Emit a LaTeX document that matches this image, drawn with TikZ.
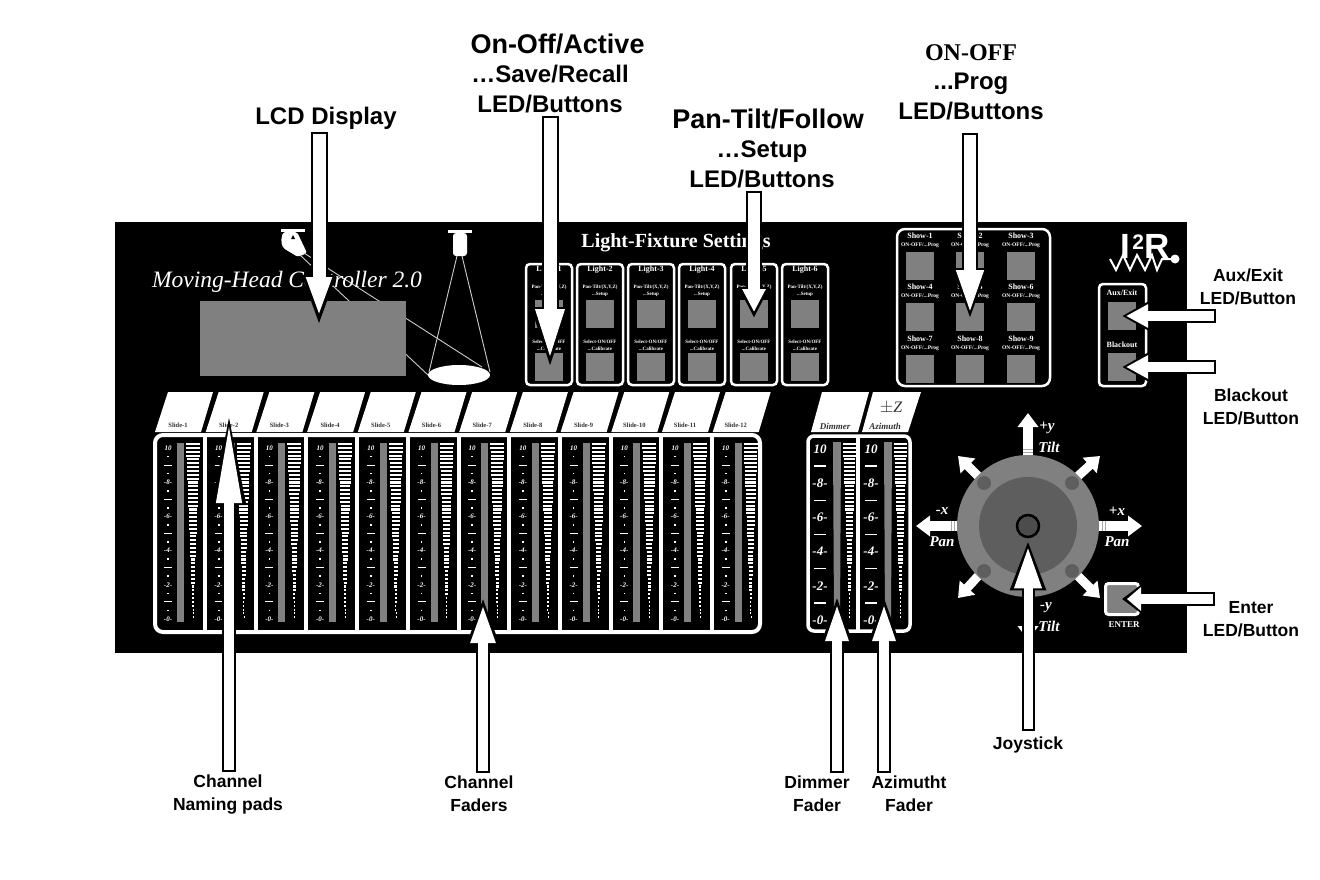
\documentclass[tikz,border=0pt]{standalone}
\usepackage{fontspec}
\setmainfont{Liberation Sans}
\newfontfamily\panelfont{Liberation Serif}
\usetikzlibrary{arrows.meta}
\usetikzlibrary{calc}
\begin{document}
\begin{tikzpicture}[
    x=1pt, y=-1pt,
    big/.style={align=center, inner sep=3pt, font=\fontsize{24}{29.5}\selectfont\bfseries},
    small/.style={align=center, inner sep=3pt, font=\fontsize{17.5}{23}\selectfont\bfseries},
    pad/.style={draw=white, line width=2.5pt, rounded corners=4pt, fill=black},
    button/.style={fill=knob, minimum width=28pt, minimum height=28pt, inner sep=0pt},
    tiny/.style={text=white, inner sep=0pt, align=center, font=\panelfont\bfseries\fontsize{5}{7}\selectfont},
    btnname/.style={text=white, inner sep=0pt, font=\panelfont\bfseries\fontsize{8}{9}\selectfont},
    slidename/.style={text=black!80, inner sep=0pt, font=\panelfont\bfseries\fontsize{6.5}{8}\selectfont},
    scalenum/.style={text=white, inner sep=0pt, font=\panelfont\bfseries\itshape\fontsize{#1}{#1}\selectfont},
    axislabel/.style={text=white, inner sep=0pt, font=\panelfont\bfseries\itshape\fontsize{15}{15}\selectfont},
    move/.style={draw=white, line width=#1, -{Triangle[length=14pt, width=20pt]}},
    hatch/.style={draw=black!35, line width=0.9pt},
    beam/.style={draw=white!80!black, line width=0.9pt},
    callout/.style n args={4}{
        preaction={draw=black, line width=#4+4pt, shorten >=0pt, shorten <=0pt,
            -{Triangle[length=#1+#3+2pt, width=#2+7pt]}},
        draw=white, line width=#4, shorten >=#3, shorten <=2pt,
        -{Triangle[length=#1, width=#2]}}
  ]
    \definecolor{knob}{HTML}{808080}
    \definecolor{innerdisc}{HTML}{5E5E5E}
    \useasboundingbox (0,0) rectangle (1320,880);

    \node[big] (lblLcd) at (326,118) {LCD Display};
    \node[big] (lblActive) at (550,73) {\hspace*{15pt}{\fontsize{27}{29.5}\selectfont On-Off/Active}\\…Save/Recall\\LED/Buttons};
    \node[big] (lblSetup) at (762,148) {\hspace*{12pt}{\fontsize{27}{29.5}\selectfont Pan-Tilt/Follow}\\…Setup\\LED/Buttons};
    \node[big] (lblProg) at (971,82) {{\panelfont ON-OFF}\\...Prog\\LED/Buttons};
    \node[small] (lblAux) at (1248,287) {Aux/Exit\\LED/Button};
    \node[small] (lblBlack) at (1251,407) {Blackout\\LED/Button};
    \node[small] (lblEnter) at (1251,619) {Enter\\LED/Button};
    \node[small] (lblJoy) at (1028,745) {Joystick};
    \node[small] (lblNaming) at (228,795) {Channel\\Naming pads};
    \node[small] (lblFaders) at (479,794) {Channel\\Faders};
    \node[small] (lblDimmer) at (817,794) {Dimmer\\Fader};
    \node[small] (lblAzimuth) at (909,794) {Azimutht\\Fader};

    \fill[black] (115,222) rectangle (1187,653);

    \fill[white] (281,229) rectangle (305,232);
    \fill[white, rounded corners=2pt] (283,232) -- (297,232) -- (307,253) -- (298,257) -- (283,248) -- (281,241) -- cycle;
    \fill[black] (293,235) -- (295,239) -- (291,239) -- cycle;
    \fill[white] (448,230) rectangle (472,233);
    \fill[white, rounded corners=3pt] (453,233) rectangle (467,256);
    \draw[beam] (304,253) -- (482,367);
    \draw[beam] (300,255) -- (428,375);
    \draw[beam] (457,256) -- (429,372);
    \draw[beam] (462,256) -- (490,372);
    \fill[white] (459,375) ellipse (31 and 10);

    \node[text=white, inner sep=0pt, font=\panelfont\itshape\fontsize{23.5}{26}\selectfont] (title) at (287,282) {Moving-Head Controller 2.0};
    \node[fill=knob, minimum width=206pt, minimum height=75pt, inner sep=0pt] (lcd) at (303,338) {};

    \node[text=white, inner sep=0pt, font=\panelfont\bfseries\fontsize{20}{20}\selectfont] (lightTitle) at (676,243) {Light-Fixture Settings};
    \foreach \x [count=\n] in {549,600,651,702,754,805} {
      \draw[pad] (\x-23,264) rectangle (\x+23,385);
      \node[btnname] (light\n) at (\x,270) {Light-\n};
      \node[tiny] (setup\n) at (\x,291) {Pan-Tilt/(X,Y,Z)\\...Setup};
      \node[button] (top\n) at (\x,314) {};
      \node[tiny] (calib\n) at (\x,345) {Select-ON/OFF\\...Calibrate};
      \node[button] (bottom\n) at (\x,367) {};
    }

    \draw[pad, rounded corners=8pt] (897,229) rectangle (1050,386);
    \foreach \row [count=\r from 0] in {236,287,339} {
      \foreach \x [count=\c] in {920,970,1021} {
        \pgfmathtruncatemacro{\n}{3*\r+\c}
        \node[btnname] (show\n) at (\x,\row) {Show-\n};
        \node[tiny, font=\panelfont\bfseries\fontsize{5.5}{7}\selectfont] (prog\n) at (\x,\row+9) {ON-OFF/...Prog};
        \node[button] (showBtn\n) at (\x,\row+30) {};
      }
    }

    \node[text=white, inner sep=0pt, font=\bfseries\fontsize{35}{35}\selectfont] (logo) at (1145,246) {I\hspace{2pt}\raisebox{9pt}{\fontsize{21}{21}\selectfont 2}R};
    \draw[white, line width=2pt] (1110,259) -- (1116,270) -- (1123,255) -- (1130,270) -- (1137,255) -- (1145,270) -- (1152,255) -- (1157,270) -- (1162,259) -- (1175,259);
    \fill[white] (1175,259) circle (4.5);

    \draw[pad, rounded corners=4pt] (1099,284) rectangle (1146,386);
    \node[btnname] (auxName) at (1122,293) {Aux/Exit};
    \node[button] (auxBtn) at (1122,316) {};
    \node[btnname] (blackName) at (1122,345) {Blackout};
    \node[button] (blackBtn) at (1122,367) {};

    \foreach \i [count=\n] in {0,...,11} {
      \fill[white] (155+\i*50.7,432) -- (168+\i*50.7,392) -- (213+\i*50.7,392) -- (201+\i*50.7,432) -- cycle;
      \node[slidename] (slide\n) at (178+\i*50.7,425) {Slide-\n};
      \fill[knob] (177+\i*50.7,443) rectangle (184+\i*50.7,622);
      \foreach \j in {0,...,45} {
        \draw[white, line width=2.1pt] ({193+\i*50.7-7*(1-\j/46)},{444+3.85*\j}) -- ({193+\i*50.7+7*(1-\j/46)},{444+3.85*\j});
      }
      \foreach \k in {0,...,20} {
        \pgfmathtruncatemacro{\kind}{mod(\k,4)}
        \ifnum\kind=2
          \draw[white, line width=1pt] (164+\i*50.7,448+8.55*\k) -- (172+\i*50.7,448+8.55*\k);
        \fi
        \ifodd\k
          \fill[white] (167.2+\i*50.7,447.2+8.55*\k) rectangle (168.8+\i*50.7,448.8+8.55*\k);
        \fi
      }
      \foreach \k/\lab in {0/10,4/-8-,8/-6-,12/-4-,16/-2-,20/-0-} {
        \node[scalenum=7] (num\n-\k) at (168+\i*50.7,448+8.55*\k) {\lab};
      }
    }
    \draw[white, line width=4pt, rounded corners=8pt] (155,435) rectangle (760,632);
    \foreach \i in {0,...,10} {
      \draw[white, line width=4pt] (205+\i*50.7,435) -- (205+\i*50.7,632);
    }

    \fill[white] (811,432) -- (822,392) -- (869,392) -- (858,432) -- cycle;
    \fill[white] (862,432) -- (873,392) -- (921,392) -- (908,432) -- cycle;
    \node[slidename, font=\panelfont\bfseries\itshape\fontsize{9}{9}\selectfont] (dimmerName) at (835,426) {Dimmer};
    \node[slidename, font=\panelfont\bfseries\itshape\fontsize{9}{9}\selectfont] (azimuthName) at (885,426) {Azimuth};
    \node[slidename, font=\panelfont\itshape\fontsize{16}{16}\selectfont] (zName) at (891,408) {$\pm$Z};
    \foreach \x/\nm in {0/dim,51/azi} {
      \fill[knob] (833+\x,442) -- (841+\x,442) -- (840+\x,620) -- (834+\x,620) -- cycle;
      \foreach \j in {0,...,45} {
        \draw[white, line width=2.1pt] ({849.5+\x-6.5*(1-\j/46)},{444+3.85*\j}) -- ({849.5+\x+6.5*(1-\j/46)},{444+3.85*\j});
      }
      \foreach \k/\lab in {0/10,4/-8-,8/-6-,12/-4-,16/-2-,20/-0-} {
        \node[scalenum=13] (\nm-\k) at (820+\x,449+8.55*\k) {\lab};
      }
      \foreach \k in {2,6,10,14,18} {
        \draw[white, line width=1.4pt] (814+\x,449+8.55*\k) -- (826+\x,449+8.55*\k);
      }
    }
    \draw[white, line width=3.5pt, rounded corners=6pt] (808,436) rectangle (910,631);
    \draw[white, line width=3.5pt] (858,436) -- (858,631);

    \draw[move=10pt] (1028,455) -- (1028,413);
    \draw[move=10pt] (1099,526) -- (1142,526);
    \draw[move=10pt] (957,526) -- (916,526);
    \draw[move=10pt] (1028,597) -- (1028,640);
    \draw[move=9pt] (1077,477) -- (1100,456);
    \draw[move=9pt] (979,477) -- (958,456);
    \draw[move=9pt] (979,575) -- (958,598);
    \draw[move=9pt] (1077,575) -- (1100,598);
    \foreach \d in {0,3} {
      \draw[hatch] (1023,449+\d) -- (1033,449+\d);
      \draw[hatch] (1102+\d,521) -- (1102+\d,531);
      \draw[hatch] (951+\d,521) -- (951+\d,531);
    }
    \node[circle, fill=knob, minimum size=142pt, inner sep=0pt] (disc) at (1028,526) {};
    \node[circle, fill=innerdisc, minimum size=98pt, inner sep=0pt] (discInner) at (disc) {};
    \foreach \x/\y [count=\n] in {984/483,1072/483,984/571,1072/571} {
      \node[circle, fill=innerdisc, minimum size=14pt, inner sep=0pt] (screw\n) at (\x,\y) {};
    }
    \node[circle, draw=black, line width=2.5pt, fill=black!70, minimum size=22pt, inner sep=0pt] (stick) at (disc) {};
    \node[axislabel] (plusY) at (1047,428) {+y};
    \node[axislabel] (tiltUp) at (1049,447) {Tilt};
    \node[axislabel] (minusX) at (942,511) {-x};
    \node[axislabel] (panLeft) at (942,542) {Pan};
    \node[axislabel] (plusX) at (1117,511) {+x};
    \node[axislabel] (panRight) at (1117,542) {Pan};
    \node[axislabel] (minusY) at (1046,608) {-y};
    \node[axislabel] (tiltDown) at (1049,626) {Tilt};

    \node[draw=white, line width=3pt, rounded corners=3pt, fill=knob, minimum width=33pt, minimum height=31pt, inner sep=0pt] (enterBtn) at (1122,599) {};
    \node[btnname, font=\panelfont\bfseries\fontsize{9}{9}\selectfont] (enterName) at (1124,625) {ENTER};

    \coordinate (tipLcd) at (319,328);
    \coordinate (tipActive) at (550,376);
    \coordinate (tipSetup) at (754,318);
    \coordinate (tipProg) at (970,322);
    \coordinate (tipNaming) at (229,408);
    \coordinate (tipFaders) at (483,595);
    \coordinate (tipDimmer) at (837,593);
    \coordinate (tipAzimuth) at (884,593);
    \coordinate (tailAux) at (1216,316);
    \coordinate (tailBlack) at (1216,367);
    \coordinate (tailEnter) at (1215,599);

    \draw[callout={40pt}{23pt}{11pt}{13pt}] (lblLcd.south -| tipLcd) -- (tipLcd);
    \draw[callout={55pt}{25pt}{12pt}{13pt}] (lblActive.south -| tipActive) -- (tipActive);
    \draw[callout={23pt}{22pt}{6pt}{12pt}] (lblSetup.south -| tipSetup) -- (tipSetup);
    \draw[callout={46pt}{24pt}{6pt}{12pt}] ([yshift=-10pt]lblProg.south -| tipProg) -- (tipProg);
    \draw[callout={83pt}{23pt}{12pt}{10pt}] (lblNaming.north -| tipNaming) -- (tipNaming);
    \draw[callout={40pt}{22pt}{8pt}{10pt}] (lblFaders.north -| tipFaders) -- (tipFaders);
    \draw[callout={40pt}{20pt}{8pt}{10pt}] (lblDimmer.north -| tipDimmer) -- (tipDimmer);
    \draw[callout={40pt}{20pt}{8pt}{10pt}] (lblAzimuth.north -| tipAzimuth) -- (tipAzimuth);
    \draw[callout={42pt}{25pt}{8pt}{9pt}] ([yshift=3pt]lblJoy.north) -- (stick.south);
    \draw[callout={22pt}{22pt}{4pt}{10pt}] (tailAux) -- (auxBtn.center);
    \draw[callout={22pt}{22pt}{4pt}{10pt}] (tailBlack) -- (blackBtn.center);
    \draw[callout={14pt}{23pt}{5pt}{10pt}] (tailEnter) -- (enterBtn.center);
\end{tikzpicture}
\end{document}
